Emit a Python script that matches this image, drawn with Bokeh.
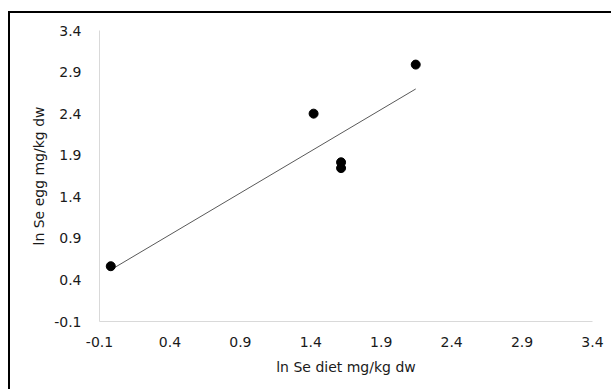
import numpy as np
from bokeh.plotting import figure
from bokeh.models import FixedTicker, PrintfTickFormatter, Range1d, InlineStyleSheet
from bokeh.embed import file_html
from bokeh.resources import INLINE

# data (ln Se diet vs ln Se egg)
x_diet = [-0.02, 1.42, 1.615, 1.615, 2.145]
y_egg = [0.565, 2.40, 1.815, 1.745, 2.99]
ticks = [-0.1, 0.4, 0.9, 1.4, 1.9, 2.4, 2.9, 3.4]

slope, intercept = np.polyfit(x_diet, y_egg, 1)
fit_x = [min(x_diet), max(x_diet)]
fit_y = [slope * v + intercept for v in fit_x]

p = figure(width=603, height=378, output_backend="svg", toolbar_location=None,
           x_range=Range1d(-0.1, 3.4), y_range=Range1d(-0.1, 3.4),
           min_border_left=89, min_border_right=21, min_border_top=17, min_border_bottom=70)
p.stylesheets = [InlineStyleSheet(css=":host { margin: 11px 0 0 8px; border-top: 2px solid #000000; border-left: 2px solid #000000; }")]
p.outline_line_color = None
p.xgrid.visible = False
p.ygrid.visible = False

p.line(fit_x, fit_y, line_color="#595959", line_width=1)
p.scatter(x_diet, y_egg, size=9, fill_color="#000000", line_color="#000000")

font = "DejaVu Sans"
for ax in (p.xaxis[0], p.yaxis[0]):
    ax.ticker = FixedTicker(ticks=ticks)
    ax.formatter = PrintfTickFormatter(format="%.1f")
    ax.major_tick_line_color = None
    ax.minor_tick_line_color = None
    ax.axis_line_color = "#d9d9d9"
    ax.axis_line_width = 1
    ax.major_label_text_font = font
    ax.major_label_text_font_size = "14px"
    ax.major_label_text_color = "#1a1a1a"
    ax.axis_label_text_font = font
    ax.axis_label_text_font_size = "14px"
    ax.axis_label_text_font_style = "normal"
    ax.axis_label_text_color = "#1a1a1a"

p.xaxis.axis_label = "ln Se diet mg/kg dw"
p.yaxis.axis_label = "ln Se egg mg/kg dw"
p.xaxis.major_label_standoff = 9
p.yaxis.major_label_standoff = 12
p.xaxis.axis_label_standoff = 9
p.yaxis.axis_label_standoff = 4

open("out.html", "w").write(file_html(p, INLINE))
